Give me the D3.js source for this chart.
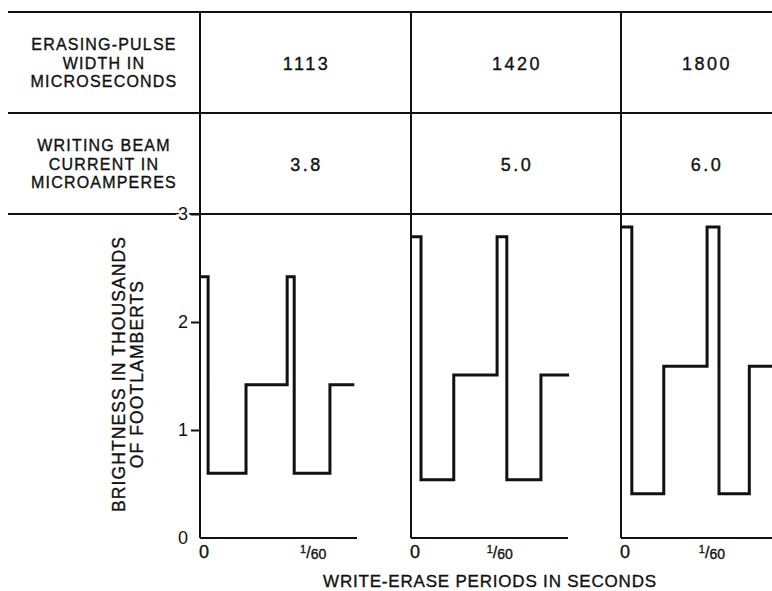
<!DOCTYPE html>
<html><head><meta charset="utf-8">
<script src="https://cdn.jsdelivr.net/npm/d3@7"></script>
<style>
html,body{margin:0;padding:0;background:#fff;}
svg{display:block;font-family:"Liberation Sans",Arial,sans-serif;}
</style></head><body>
<svg id="chart" width="772" height="591"></svg>
<script>
// ---------- data ----------
const rowLabels = [["ERASING-PULSE","WIDTH IN","MICROSECONDS"],["WRITING BEAM","CURRENT IN","MICROAMPERES"]];
const erasePulseWidth = ["1113","1420","1800"];
const beamCurrent = ["3.8","5.0","6.0"];
const yTicks = [0,1,2,3];
const xTickLabels = ["0","1/60"];
const xTickTimes = [[0,20.9],[0,16.4],[0,16.8]];          // ms, where the labels are lettered
const edgeTimes = [                                         // ms, step edges of each trace
  [0,1.5,8.5,16.1,17.4,24.0,28.5],
  [0,1.85,7.9,15.9,17.7,24.0,29.2],
  [0,2.0,7.9,15.9,18.1,23.7,29.5]
];
const peakLevel = [2.42,2.79,2.88];   // thousands of footlamberts
const lowLevel  = [0.60,0.54,0.41];
const midLevel  = [1.42,1.51,1.59];
const yTitle = ["BRIGHTNESS IN THOUSANDS","OF FOOTLAMBERTS"];
const xTitle = "WRITE-ERASE PERIODS IN SECONDS";

// ---------- layout ----------
const svg = d3.select("#chart");
const W = 772;
const tableLeft = 8;
const rowLines = [12,113,214];
const colEdges = [200,411,621,791];
const panelW = 157;
const ink = "#111";
const heavy = s => s.attr("stroke",ink).attr("stroke-width",0.35);
const y = d3.scaleLinear().domain([0,3]).range([538,214]);
const x = d3.scaleLinear().domain([0,29]).range([0,panelW]);

// table horizontal lines
svg.selectAll("line.h").data(rowLines).join("line")
  .attr("x1",tableLeft).attr("x2",W).attr("y1",d=>d).attr("y2",d=>d)
  .attr("stroke",ink).attr("stroke-width",2);

// row label text
const labelCx = 104;
rowLabels.forEach((lines,r)=>{
  const cy = (rowLines[r]+rowLines[r+1])/2;
  svg.append("text").attr("text-anchor","middle").attr("font-size",16).attr("letter-spacing",1.2)
    .attr("fill",ink).call(heavy)
    .selectAll("tspan").data(lines).join("tspan")
    .attr("x",labelCx).attr("y",(d,i)=>cy+6+(i-1)*18.5).text(d=>d);
});

// values
[erasePulseWidth, beamCurrent].forEach((vals,r)=>{
  const cy = (rowLines[r]+rowLines[r+1])/2;
  svg.selectAll(null).data(vals).join("text")
    .attr("x",(d,i)=>(colEdges[i]+colEdges[i+1])/2+1)
    .attr("y",cy+7).attr("text-anchor","middle").attr("font-size",18).attr("fill",ink).call(heavy)
    .attr("letter-spacing",2.5).text(d=>d);
});

// panels
const line = d3.line().x(d=>x(d.t)).y(d=>y(d.v)).curve(d3.curveStepAfter);
erasePulseWidth.forEach((_,p)=>{
  const ax = colEdges[p];
  const g = svg.append("g").attr("transform",`translate(${ax},0)`);
  // vertical divider / y axis
  g.append("line").attr("x1",0).attr("x2",0).attr("y1",rowLines[0]).attr("y2",y(0))
    .attr("stroke",ink).attr("stroke-width",2);
  // baseline
  g.append("line").attr("x1",0).attr("x2",x(29)).attr("y1",y(0)).attr("y2",y(0))
    .attr("stroke",ink).attr("stroke-width",2);
  // trace
  const levels = [peakLevel[p],lowLevel[p],midLevel[p],peakLevel[p],lowLevel[p],midLevel[p],midLevel[p]];
  const pts = edgeTimes[p].map((t,i)=>({t, v:levels[i]}));
  g.append("path").attr("d",line(pts)).attr("fill","none")
    .attr("stroke",ink).attr("stroke-width",3).attr("stroke-linejoin","miter");
  // x tick labels
  xTickLabels.forEach((lab,i)=>{
    const tx = x(xTickTimes[p][i]) + (i===0?4:0);
    const t = g.append("text").attr("x",tx).attr("y",558).attr("text-anchor","middle").attr("fill",ink).call(heavy);
    if(lab==="0"){ t.attr("font-size",18).text("0"); }
    else {
      const parts = lab.split("/");
      t.append("tspan").attr("font-size",11).attr("dy",-5).text(parts[0]);
      t.append("tspan").attr("font-size",16).attr("dy",5).text("/");
      t.append("tspan").attr("font-size",14).attr("dy",1).text(parts[1]);
    }
  });
  // y axis only on first panel
  if(p===0){
    const ya = d3.axisLeft(y).tickValues(yTicks).tickSize(9).tickPadding(3).tickFormat(d3.format("d"));
    const yg = g.append("g").call(ya);
    yg.select(".domain").remove();
    yg.selectAll(".tick line").attr("stroke",ink).attr("stroke-width",2)
      .filter(d=>d===0).remove();
    yg.selectAll(".tick text").attr("font-size",18).attr("fill",ink).attr("font-family",null)
      .attr("stroke","#fff").attr("stroke-width",5).attr("paint-order","stroke");
  }
});

// axis titles
yTitle.forEach((t,i)=>{
  svg.append("text").attr("transform",`translate(${125+i*17.5},374) rotate(-90)`)
    .attr("text-anchor","middle").attr("font-size",17.5).attr("letter-spacing",1.1).attr("fill",ink).call(heavy).text(t);
});
svg.append("text").attr("x",490).attr("y",587).attr("text-anchor","middle")
  .attr("font-size",17).attr("letter-spacing",0.8).attr("fill",ink).call(heavy).text(xTitle);
</script>
</body></html>
